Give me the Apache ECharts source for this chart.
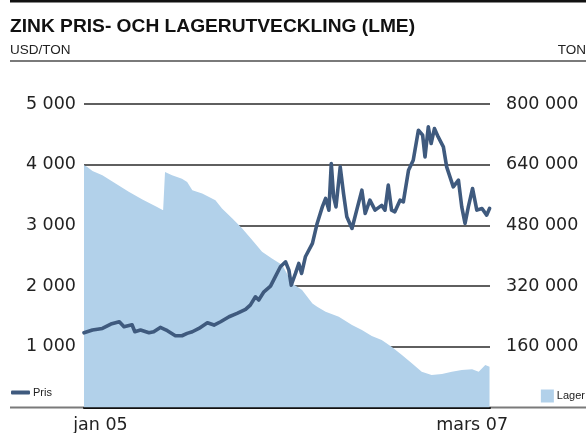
<!DOCTYPE html>
<html>
<head>
<meta charset="utf-8">
<script src="https://cdn.jsdelivr.net/npm/echarts@6/dist/echarts.min.js"></script>
<style>
html,body{margin:0;padding:0;background:#fff;}
#c{width:586px;height:433px;}
</style>
</head>
<body>
<div id="c"></div>
<script>
// ---- Data ----
const priceDates = ['2004-11-27','2004-12-15','2005-01-05','2005-01-23','2005-02-10','2005-02-20','2005-03-09','2005-03-15','2005-03-27','2005-04-14','2005-04-24','2005-05-08','2005-05-23','2005-06-09','2005-06-23','2005-07-04','2005-07-15','2005-07-29','2005-08-16','2005-08-30','2005-09-13','2005-10-01','2005-10-18','2005-11-05','2005-11-15','2005-11-26','2005-12-03','2005-12-14','2005-12-28','2006-01-07','2006-01-18','2006-01-29','2006-02-05','2006-02-10','2006-02-19','2006-02-26','2006-03-04','2006-03-12','2006-03-27','2006-04-06','2006-04-17','2006-04-24','2006-05-01','2006-05-06','2006-05-11','2006-05-16','2006-05-25','2006-06-01','2006-06-08','2006-06-19','2006-06-29','2006-07-10','2006-07-17','2006-07-27','2006-08-07','2006-08-21','2006-08-28','2006-09-04','2006-09-11','2006-09-18','2006-09-29','2006-10-06','2006-10-17','2006-10-27','2006-11-07','2006-11-16','2006-11-21','2006-11-28','2006-12-04','2006-12-11','2006-12-19','2006-12-30','2007-01-06','2007-01-13','2007-01-20','2007-01-31','2007-02-07','2007-02-14','2007-02-21','2007-03-02','2007-03-11','2007-03-22','2007-04-01','2007-04-07'];
const priceValues = [1231,1276,1303,1374,1413,1330,1363,1248,1276,1231,1248,1320,1265,1182,1182,1221,1248,1303,1396,1358,1413,1495,1550,1616,1687,1824,1770,1906,2000,2153,2318,2400,2263,2016,2209,2373,2209,2483,2703,3032,3305,3444,3251,4020,3470,3305,3964,3526,3141,2950,3251,3580,3196,3416,3251,3330,3251,3663,3251,3224,3416,3388,3909,4074,4568,4486,4128,4623,4349,4596,4458,4293,3964,3800,3635,3745,3305,3032,3305,3608,3251,3279,3169,3279];

const stockDates = ['2004-11-27','2004-12-04','2004-12-15','2005-01-05','2005-02-02','2005-03-02','2005-03-31','2005-04-28','2005-05-14','2005-05-18','2005-06-02','2005-06-23','2005-07-04','2005-07-15','2005-08-05','2005-09-02','2005-09-16','2005-10-08','2005-10-29','2005-11-19','2005-12-10','2005-12-31','2006-01-22','2006-02-12','2006-03-05','2006-03-27','2006-04-06','2006-04-24','2006-05-22','2006-06-19','2006-07-10','2006-07-31','2006-08-21','2006-09-11','2006-10-03','2006-10-24','2006-11-14','2006-12-05','2006-12-27','2007-01-17','2007-02-07','2007-03-01','2007-03-15','2007-03-29','2007-04-07'];
const stockValues = [638700,634000,623700,612400,590500,568500,548300,530700,520200,621000,612400,603000,594700,572800,564100,546500,524600,498300,471900,441200,410400,392900,375300,327100,309500,274400,265500,252300,239200,217300,204100,188300,177800,160100,138300,116400,94300,85600,88200,94300,98800,100600,94300,112000,107500];

const xTickDates = ['2005-01-01','2007-03-01'];
const xTickLabels = ['jan 05','mars 07'];
const xMin = '2004-11-27';
const xMax = '2007-04-08';

const titleText = 'ZINK PRIS- OCH LAGERUTVECKLING (LME)';
const leftUnit = 'USD/TON';
const rightUnit = 'TON';

// ---- Build ----
const ts = d => new Date(d + 'T00:00:00Z').getTime();
const priceData = priceDates.map((d,i)=>[ts(d), priceValues[i]]);
const stockData = stockDates.map((d,i)=>[ts(d), stockValues[i]]);
const tickTs = xTickDates.map(ts);

function fmtNum(v){
  if (v === 0) return '';
  const s = String(Math.round(v));
  return s.replace(/\B(?=(\d{3})+(?!\d))/g, ' ');
}

const chart = echarts.init(document.getElementById('c'), null, {renderer:'canvas'});
const FONT = 'DejaVu Sans';
const baseGraphic = [
  {type:'rect', shape:{x:10,y:0,width:576,height:2.5}, style:{fill:'#111'}, silent:true},
  {type:'rect', shape:{x:10,y:60,width:576,height:2}, style:{fill:'#7a7a7a'}, silent:true},
  {type:'rect', shape:{x:10,y:406.5,width:576,height:2}, style:{fill:'#7a7a7a'}, silent:true, z:-10}
];
chart.setOption({
  animation:false,
  backgroundColor:'#fff',
  title:[
    {text:titleText, left:10, top:17, padding:0, textStyle:{fontFamily:'Liberation Sans', fontWeight:'bold', fontSize:19.2, color:'#111'}},
    {text:leftUnit, left:10, top:43, padding:0, textStyle:{fontFamily:'Liberation Sans', fontWeight:'normal', fontSize:13.5, color:'#222'}},
    {text:rightUnit, right:0, top:43, padding:0, textStyle:{fontFamily:'Liberation Sans', fontWeight:'normal', fontSize:13.5, color:'#222'}}
  ],
  graphic:baseGraphic,
  legend:[
    {data:[{name:'Pris', icon:'roundRect'}], left:11, top:387, padding:0, itemWidth:19, itemHeight:4, itemGap:0,
     textStyle:{fontFamily:'Liberation Sans', fontSize:11, color:'#222', padding:[0,0,0,-2]}},
    {data:[{name:'Lager', icon:'rect'}], right:1, top:389.5, padding:0, itemWidth:13, itemHeight:13, itemGap:0,
     textStyle:{fontFamily:'Liberation Sans', fontSize:11, color:'#222', padding:[2,0,0,-2]}}
  ],
  grid:{left:84, right:96, top:104, bottom:25.5, containLabel:false},
  xAxis:{
    type:'value', min:ts(xMin), max:ts(xMax),
    axisLine:{show:true, onZero:false, lineStyle:{color:'#111', width:2}},
    axisTick:{show:false},
    splitLine:{show:false},
    axisLabel:{show:false}
  },
  yAxis:[
    {type:'value', min:0, max:5000, interval:1000, position:'left',
     axisLine:{show:false}, axisTick:{show:false},
     splitLine:{show:true, lineStyle:{color:'#2a2a2a', width:1.6}},
     axisLabel:{formatter:fmtNum, fontFamily:FONT, fontSize:17.5, color:'#222', margin:8}},
    {type:'value', min:0, max:800000, interval:160000, position:'right',
     axisLine:{show:false}, axisTick:{show:false}, splitLine:{show:false},
     axisLabel:{formatter:fmtNum, fontFamily:FONT, fontSize:17.5, color:'#222', margin:16}}
  ],
  series:[
    {name:'Lager', type:'line', yAxisIndex:1, data:stockData, showSymbol:false, symbol:'none',
     lineStyle:{width:0, color:'#b2d1ea'}, itemStyle:{color:'#b2d1ea'},
     areaStyle:{color:'#b2d1ea', opacity:1}, z:2},
    {name:'Pris', type:'line', yAxisIndex:0, data:priceData, showSymbol:false, symbol:'none',
     lineStyle:{width:3.6, color:'#3f5a7e', join:'round', cap:'round'}, itemStyle:{color:'#3f5a7e'}, z:3}
  ]
});

// x-axis labels placed through the library's own x scale
const baseY = chart.convertToPixel({gridIndex:0}, [ts(xMin), 0])[1];
const labelGraphic = tickTs.map((t,i)=>{
  const px = chart.convertToPixel({xAxisIndex:0}, t);
  return {type:'text', x:px, y:baseY + 9, silent:true,
    style:{text:xTickLabels[i], fontFamily:FONT, fontSize:17.5, fill:'#222', align:'center', verticalAlign:'top'}};
});
chart.setOption({graphic: baseGraphic.concat(labelGraphic)});
</script>
</body>
</html>
